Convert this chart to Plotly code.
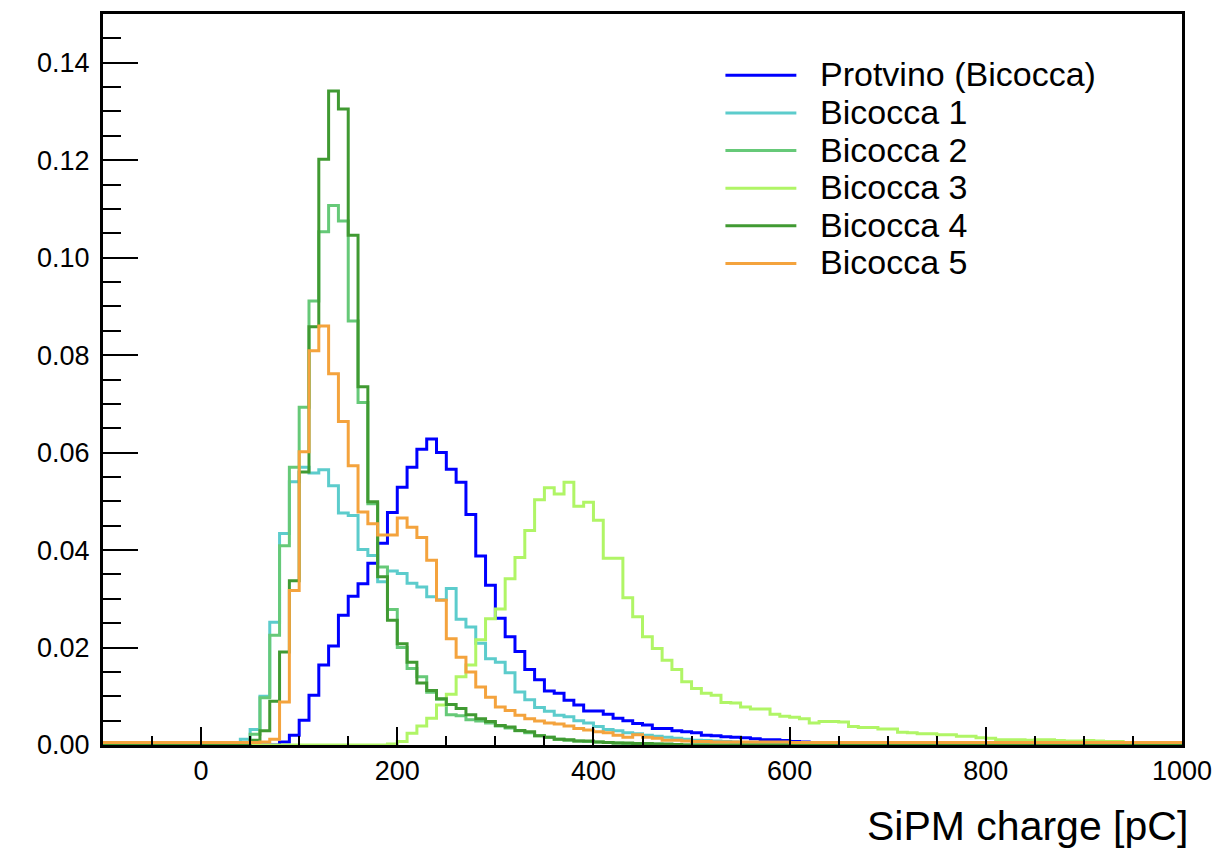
import plotly.graph_objects as go

# ---------------- data (bin width 10 pC, lower bin edges) ----------------
bin_edges = list(range(-100, 1010, 10))   # -100 ... 1000

series_names = ["Protvino (Bicocca)", "Bicocca 1", "Bicocca 2", "Bicocca 3", "Bicocca 4", "Bicocca 5"]
series_colors = ["#0000ff", "#5ccccc", "#66c978", "#b0f566", "#409a32", "#f4a33d"]

# each series: first bin lower edge + values
protvino_start = 80
protvino = [0.0006, 0.0020, 0.0051, 0.0102, 0.0164, 0.0203, 0.0266, 0.0305, 0.0331, 0.0373,
            0.0414, 0.0477, 0.0529, 0.0570, 0.0607, 0.0628, 0.0600, 0.0566, 0.0539, 0.0473,
            0.0388, 0.0328, 0.0260, 0.0222, 0.0192, 0.0155, 0.0134, 0.0111, 0.0106, 0.0092,
            0.0082, 0.0070, 0.0070, 0.0063, 0.0055, 0.0050, 0.0044, 0.0041, 0.0034, 0.0034,
            0.0029, 0.0027, 0.0025, 0.0020, 0.0019, 0.0017, 0.0016, 0.0015, 0.0013, 0.0011,
            0.0011, 0.0009, 0.0007, 0.0006, 0.0005, 0.0004, 0.0002]

bicocca1_start = 30
bicocca1 = [0.0003, 0.0012, 0.0032, 0.0100, 0.0252, 0.0434, 0.0540, 0.0570, 0.0558, 0.0565,
            0.0532, 0.0476, 0.0471, 0.0401, 0.0389, 0.0335, 0.0357, 0.0352, 0.0332, 0.0324,
            0.0304, 0.0298, 0.0321, 0.0258, 0.0242, 0.0209, 0.0177, 0.0170, 0.0148, 0.0109,
            0.0093, 0.0077, 0.0069, 0.0061, 0.0058, 0.0050, 0.0045, 0.0038, 0.0032, 0.0029,
            0.0025, 0.0023, 0.0020, 0.0018, 0.0016, 0.0014, 0.0012, 0.0010, 0.0009, 0.0008,
            0.0007, 0.0006, 0.0005, 0.0004, 0.0004, 0.0003, 0.0003, 0.0002, 0.0002, 0.0001]

bicocca2_start = 40
bicocca2 = [0.0004, 0.0022, 0.0097, 0.0225, 0.0409, 0.0570, 0.0693, 0.0911, 0.1053, 0.1107,
            0.1075, 0.0870, 0.0703, 0.0495, 0.0365, 0.0278, 0.0200, 0.0157, 0.0140, 0.0108,
            0.0094, 0.0062, 0.0060, 0.0052, 0.0049, 0.0045, 0.0039, 0.0035, 0.0029, 0.0025,
            0.0019, 0.0016, 0.0012, 0.0010, 0.0008, 0.0007, 0.0006, 0.0005, 0.0004, 0.0003,
            0.0003, 0.0002, 0.0002, 0.0001]

bicocca3_start = 190
bicocca3 = [0.0002, 0.0007, 0.0024, 0.0039, 0.0055, 0.0082, 0.0104, 0.0140, 0.0164, 0.0216,
            0.0259, 0.0279, 0.0341, 0.0385, 0.0440, 0.0503, 0.0528, 0.0515, 0.0539, 0.0490,
            0.0498, 0.0461, 0.0383, 0.0383, 0.0302, 0.0263, 0.0222, 0.0198, 0.0174, 0.0155,
            0.0130, 0.0116, 0.0106, 0.0102, 0.0087, 0.0086, 0.0078, 0.0074, 0.0074, 0.0063,
            0.0059, 0.0057, 0.0054, 0.0045, 0.0048, 0.0048, 0.0047, 0.0038, 0.0036, 0.0036,
            0.0033, 0.0033, 0.0026, 0.0025, 0.0023, 0.0023, 0.0021, 0.0021, 0.0018, 0.0018,
            0.0015, 0.0014, 0.0011, 0.0011, 0.0011, 0.0010, 0.0011, 0.0011, 0.0009, 0.0008,
            0.0008, 0.0009, 0.0008, 0.0007, 0.0007, 0.0005, 0.0005, 0.0005, 0.0004, 0.0005,
            0.0004]

bicocca4_start = 40
bicocca4 = [0.0003, 0.0010, 0.0029, 0.0090, 0.0191, 0.0337, 0.0560, 0.0858, 0.1202, 0.1342,
            0.1305, 0.1046, 0.0735, 0.0499, 0.0345, 0.0256, 0.0208, 0.0170, 0.0127, 0.0112,
            0.0095, 0.0083, 0.0075, 0.0062, 0.0054, 0.0048, 0.0040, 0.0037, 0.0030, 0.0027,
            0.0019, 0.0016, 0.0012, 0.0011, 0.0008, 0.0008, 0.0006, 0.0005, 0.0004, 0.0004,
            0.0003, 0.0003, 0.0002, 0.0002, 0.0001]

bicocca5_start = -100
bicocca5 = [0.0005, 0.0005, 0.0005, 0.0005, 0.0005, 0.0005, 0.0005, 0.0005, 0.0005, 0.0005,
            0.0005, 0.0005, 0.0005, 0.0005, 0.0005, 0.0005, 0.0006, 0.0012, 0.0088, 0.0317,
            0.0602, 0.0809, 0.0860, 0.0762, 0.0664, 0.0573, 0.0478, 0.0454, 0.0431, 0.0431,
            0.0466, 0.0447, 0.0426, 0.0379, 0.0297, 0.0218, 0.0180, 0.0150, 0.0119, 0.0098,
            0.0078, 0.0071, 0.0061, 0.0054, 0.0049, 0.0045, 0.0043, 0.0039, 0.0034, 0.0031,
            0.0027, 0.0025, 0.0020, 0.0016, 0.0021, 0.0016, 0.0014, 0.0010, 0.0010, 0.0008,
            0.0007, 0.0007, 0.0006, 0.0006, 0.0006, 0.0006, 0.0006, 0.0006, 0.0006, 0.0006,
            0.0005, 0.0005, 0.0005, 0.0005, 0.0005, 0.0005, 0.0005, 0.0005, 0.0005, 0.0005,
            0.0005, 0.0005, 0.0005, 0.0005, 0.0005, 0.0005, 0.0005, 0.0005, 0.0005, 0.0005,
            0.0005, 0.0005, 0.0005, 0.0005, 0.0005, 0.0005, 0.0005, 0.0005, 0.0005, 0.0005,
            0.0005, 0.0005, 0.0005, 0.0005, 0.0005, 0.0005, 0.0005, 0.0005, 0.0005, 0.0005]

series_starts = [protvino_start, bicocca1_start, bicocca2_start, bicocca3_start, bicocca4_start, bicocca5_start]
series_values = [protvino, bicocca1, bicocca2, bicocca3, bicocca4, bicocca5]

x_ticks = [0, 200, 400, 600, 800, 1000]
y_ticks = [0.00, 0.02, 0.04, 0.06, 0.08, 0.10, 0.12, 0.14]

FONT = "Liberation Sans, Arial, Helvetica, sans-serif"
n_bins = len(bin_edges) - 1

fig = go.Figure()
for name, color, start, vals in zip(series_names, series_colors, series_starts, series_values):
    i0 = (start - bin_edges[0]) // 10
    full = [0.0] * i0 + list(vals)
    full = full + [0.0] * (n_bins - len(full))
    fig.add_trace(go.Scatter(
        x=bin_edges, y=full + [full[-1]], mode="lines", name=name,
        line=dict(color=color, width=3, shape="hv"), showlegend=False,
        hoverinfo="skip"))

# ---------------- layout ----------------
L, R, T, B = 103, 40, 11, 103
W, H = 1223, 848
pw, ph = W - L - R, H - T - B

fig.update_layout(
    width=W, height=H, autosize=False,
    margin=dict(l=L, r=R, t=T, b=B),
    paper_bgcolor="white", plot_bgcolor="white",
    font=dict(family=FONT, color="black"),
    showlegend=False,
)
fig.update_xaxes(
    range=[-100, 1000], tickmode="array", tickvals=x_ticks,
    ticktext=[str(v) for v in x_ticks],
    ticks="inside", ticklen=18, tickwidth=2, tickcolor="black",
    minor=dict(dtick=50, tick0=0, ticks="inside", ticklen=9, tickwidth=2, tickcolor="black", showgrid=False),
    showline=True, linewidth=3, linecolor="black", mirror=True,
    showgrid=False, zeroline=False,
    tickfont=dict(family=FONT, size=27, color="black"),
    ticklabelstandoff=0,
)
fig.update_yaxes(
    range=[0, 0.15], tickmode="array", tickvals=y_ticks,
    ticktext=[f"{v:.2f}" for v in y_ticks],
    ticks="inside", ticklen=35, tickwidth=2, tickcolor="black",
    minor=dict(dtick=0.005, tick0=0, ticks="inside", ticklen=18, tickwidth=2, tickcolor="black", showgrid=False),
    showline=True, linewidth=3, linecolor="black", mirror=True,
    showgrid=False, zeroline=False,
    tickfont=dict(family=FONT, size=27, color="black"),
    ticklabelstandoff=5,
)

# axis title (bottom right)
fig.add_annotation(
    text="SiPM charge [pC]", xref="paper", yref="paper", x=1, y=0,
    xanchor="right", yanchor="middle", xshift=8, yshift=-81, showarrow=False,
    font=dict(family=FONT, size=41, color="black"),
)

# legend (drawn in paper coordinates)
leg_y0, leg_dy = 72.5, 37.8
for i, (name, color) in enumerate(zip(series_names, series_colors)):
    py = leg_y0 + i * leg_dy
    yp = (H - B - py) / ph
    fig.add_shape(type="line", xref="paper", yref="paper",
                  x0=(726 - L) / pw, x1=(797 - L) / pw, y0=yp, y1=yp,
                  line=dict(color=color, width=3))
    fig.add_annotation(text=name, xref="paper", yref="paper", x=(819 - L) / pw, y=yp,
                       xanchor="left", yanchor="middle", yshift=1, showarrow=False,
                       font=dict(family=FONT, size=34, color="black"))

fig.write_html("out.html")
